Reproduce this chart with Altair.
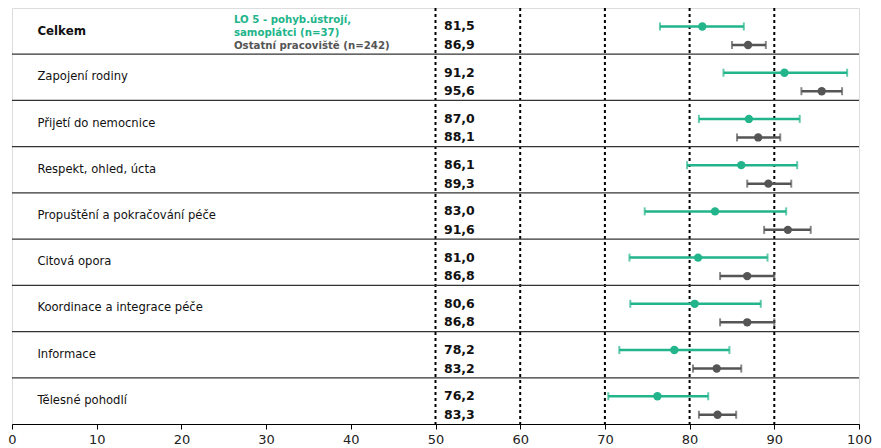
import altair as alt
import pandas as pd

categories = ["Celkem", "Zapojení rodiny", "Přijetí do nemocnice", "Respekt, ohled, úcta",
              "Propuštění a pokračování péče", "Citová opora", "Koordinace a integrace péče",
              "Informace", "Tělesné pohodlí"]
green_val = [81.5, 91.2, 87.0, 86.1, 83.0, 81.0, 80.6, 78.2, 76.2]
green_lo = [76.5, 84.0, 81.1, 79.7, 74.7, 72.9, 73.0, 71.7, 70.4]
green_hi = [86.4, 98.6, 93.0, 92.7, 91.4, 89.2, 88.4, 84.7, 82.2]
grey_val = [86.9, 95.6, 88.1, 89.3, 91.6, 86.8, 86.8, 83.2, 83.3]
grey_lo = [85.0, 93.2, 85.6, 86.8, 88.8, 83.6, 83.6, 80.4, 81.1]
grey_hi = [89.0, 98.0, 90.7, 92.0, 94.3, 90.0, 90.0, 86.1, 85.5]
series = ["LO 5 - pohyb.ústrojí, samoplátci (n=37)", "Ostatní pracoviště (n=242)"]
legend_lines = ["LO 5 - pohyb.ústrojí,", "\u00a0samoplátci (n=37)", "Ostatní pracoviště (n=242)"]
x_ticks = [0, 10, 20, 30, 40, 50, 60, 70, 80, 90, 100]
dotted_x = [50, 60, 70, 80, 90]

GREEN = "#22b48a"
GREY = "#555555"

rows = []
for i, c in enumerate(categories):
    rows.append({"cat": c, "row": i, "pos": i + 0.40, "s": series[0], "v": green_val[i],
                 "lo": green_lo[i], "hi": green_hi[i],
                 "lab": f"{green_val[i]:.1f}".replace(".", ",")})
    rows.append({"cat": c, "row": i, "pos": i + 0.80, "s": series[1], "v": grey_val[i],
                 "lo": grey_lo[i], "hi": grey_hi[i],
                 "lab": f"{grey_val[i]:.1f}".replace(".", ",")})
df = pd.DataFrame(rows)
cat_df = pd.DataFrame({"cat": categories, "pos": [i + 0.5 for i in range(len(categories))],
                       "bold": [c == "Celkem" for c in categories]})
sep_df = pd.DataFrame({"y": list(range(1, len(categories)))})
vline_df = pd.DataFrame({"x": dotted_x})

xs = alt.Scale(domain=[0, 100], nice=False, zero=False)
ys = alt.Scale(domain=[0, 9], reverse=True, nice=False, zero=False)
color = alt.Color("s:N", scale=alt.Scale(domain=series, range=[GREEN, GREY]), legend=None)

base = alt.Chart(df)

vlines = alt.Chart(vline_df).mark_rule(color="black", strokeWidth=2, strokeDash=[3, 3]).encode(
    x=alt.X("x:Q", scale=xs, axis=alt.Axis(values=x_ticks, title=None, grid=False,
                                             domainColor="black", tickColor="black",
                                             labelFont="DejaVu Sans", labelFontSize=13,
                                             labelColor="#222", tickSize=5, labelPadding=4,
                                             labelFlush=False)))
seps = alt.Chart(sep_df).mark_rule(color="#333", strokeWidth=1.3).encode(
    y=alt.Y("y:Q", scale=ys, axis=None))

bars = base.mark_rule(strokeWidth=2.5).encode(
    x=alt.X("lo:Q", scale=xs), x2="hi:Q", y=alt.Y("pos:Q", scale=ys, axis=None), color=color)
cap_lo = base.mark_tick(orient="vertical", size=8, thickness=2).encode(
    x=alt.X("lo:Q", scale=xs), y=alt.Y("pos:Q", scale=ys), color=color)
cap_hi = base.mark_tick(orient="vertical", size=8, thickness=2).encode(
    x=alt.X("hi:Q", scale=xs), y=alt.Y("pos:Q", scale=ys), color=color)
pts = base.mark_circle(size=70, opacity=1).encode(
    x=alt.X("v:Q", scale=xs), y=alt.Y("pos:Q", scale=ys), color=color)
vals = base.mark_text(align="left", baseline="middle", font="DejaVu Sans", fontSize=12.5,
                      fontWeight="bold", color="#111").encode(
    x=alt.datum(51.0, scale=xs), y=alt.Y("pos:Q", scale=ys), text="lab:N")

cat_bold = alt.Chart(cat_df).transform_filter("datum.bold").mark_text(
    align="left", baseline="middle", font="DejaVu Sans", fontSize=11.8, fontWeight="bold",
    color="#111").encode(x=alt.datum(3.0, scale=xs), y=alt.Y("pos:Q", scale=ys), text="cat:N")
cat_plain = alt.Chart(cat_df).transform_filter("!datum.bold").mark_text(
    align="left", baseline="middle", font="DejaVu Sans", fontSize=11.6,
    color="#111").encode(x=alt.datum(3.0, scale=xs), y=alt.Y("pos:Q", scale=ys), text="cat:N")

leg_df = pd.DataFrame({"t": legend_lines,
                       "yy": [0.26, 0.54, 0.82],
                       "c": ["g", "g", "k"]})
legend_txt = alt.Chart(leg_df).mark_text(align="left", baseline="middle", font="DejaVu Sans",
                                         fontSize=10.2, fontWeight="bold").encode(
    x=alt.datum(26.2, scale=xs), y=alt.Y("yy:Q", scale=ys), text="t:N",
    color=alt.Color("c:N", scale=alt.Scale(domain=["g", "k"], range=[GREEN, GREY]), legend=None))

chart = alt.layer(vlines, seps, bars, cap_lo, cap_hi, pts, vals, cat_bold, cat_plain,
                  legend_txt).properties(
    width=847, height=416,
    autosize=alt.AutoSizeParams(type="none"),
    padding={"left": 4, "top": 0, "right": 14, "bottom": 28},
).configure_view(stroke="#222", strokeWidth=1.5).configure(background="white")

chart.save("out.html", embed_options={"renderer": "svg", "actions": False})
